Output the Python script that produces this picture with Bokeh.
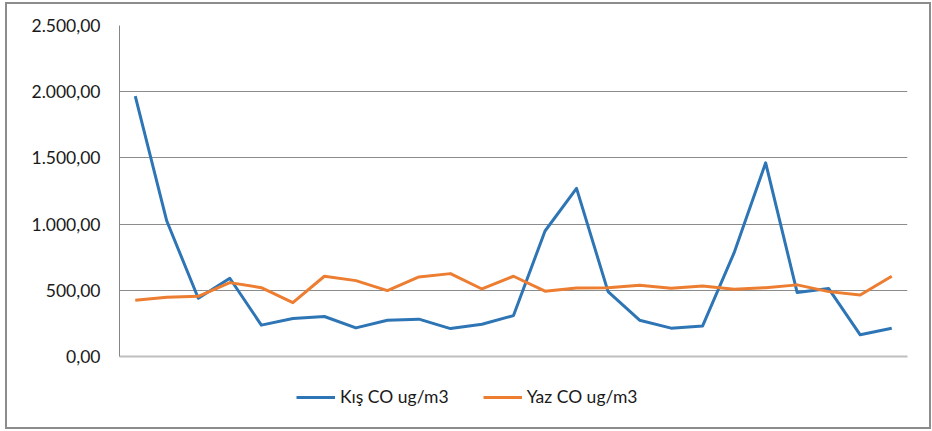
from bokeh.plotting import figure
from bokeh.layouts import column
from bokeh.models import Range1d, FixedTicker, Legend, LegendItem, InlineStyleSheet
from bokeh.embed import file_html
from bokeh.resources import INLINE

# Sample index (25 measurement points) and CO concentrations, ug/m3
samples = list(range(1, 26))
kis_co = [1966, 1023, 440, 591, 237, 287, 302, 216, 274, 282,
          211, 244, 309, 948, 1270, 490, 274, 214, 231, 784,
          1463, 483, 513, 164, 214]
yaz_co = [425, 448, 455, 558, 520, 407, 606, 573, 498, 601,
          626, 510, 606, 493, 518, 520, 538, 516, 533, 508,
          520, 541, 490, 465, 606]

y_ticks = [0, 500, 1000, 1500, 2000, 2500]
y_tick_labels = ["0,00", "500,00", "1.000,00", "1.500,00", "2.000,00", "2.500,00"]
series_names = ["Kış CO ug/m3", "Yaz CO ug/m3"]

FONT = "Lato"
BLUE = "#2E75B6"
ORANGE = "#ED7D31"
TEXT = "#1a1a1a"

# thin grey frame around the whole chart area
frame_css = InlineStyleSheet(css="""
:host { position: relative; }
:host::after {
  content: ""; position: absolute; pointer-events: none;
  left: 5px; top: 2px; right: 1px; bottom: 2px;
  border: 2px solid #8C8C8C;
}
""")

# main plot area
p = figure(width=932, height=376, output_backend="svg", toolbar_location=None,
           x_range=Range1d(0.5, len(samples) + 0.5), y_range=Range1d(0, 2500),
           min_border_left=119, min_border_right=25,
           min_border_top=25, min_border_bottom=20)
p.background_fill_color = "white"
p.border_fill_color = "white"
p.outline_line_color = None

p.line(samples, kis_co, line_color=BLUE, line_width=3, line_join="round")
p.line(samples, yaz_co, line_color=ORANGE, line_width=3, line_join="round")

# y axis: value labels in Turkish number format
p.yaxis.ticker = FixedTicker(ticks=y_ticks)
p.yaxis.major_label_overrides = dict(zip(y_ticks, y_tick_labels))
p.yaxis.major_label_text_font = FONT
p.yaxis.major_label_text_font_size = "17.5px"
p.yaxis.major_label_text_color = TEXT
p.yaxis.major_tick_out = 0
p.yaxis.major_tick_in = 0
p.yaxis.minor_tick_out = 0
p.yaxis.minor_tick_in = 0
p.yaxis.major_label_standoff = 19
p.yaxis.axis_line_color = "#868686"

# x axis: category line only, no labels
p.xaxis.ticker = FixedTicker(ticks=[])
p.xaxis.axis_line_color = "#BFBFBF"
p.xaxis.axis_line_width = 2
p.xaxis.major_tick_out = 0
p.xaxis.minor_tick_out = 0
p.xaxis.major_label_standoff = 0

p.xgrid.grid_line_color = None
p.ygrid.ticker = FixedTicker(ticks=y_ticks)
p.ygrid.grid_line_color = "#8C8C8C"
p.ygrid.grid_line_width = 1

# legend strip below the plot; its key lines reuse the series data, which
# falls outside this strip's ranges so only the legend swatches show
lg = figure(width=932, height=55, output_backend="svg", toolbar_location=None,
            x_axis_type=None, y_axis_type=None,
            x_range=Range1d(-2, -1), y_range=Range1d(-2, -1),
            min_border=0, min_border_left=0, min_border_right=0,
            min_border_top=0, min_border_bottom=0)
lg.outline_line_color = None
lg.grid.visible = False
key_kis = lg.line(samples, kis_co, line_color=BLUE, line_width=3)
key_yaz = lg.line(samples, yaz_co, line_color=ORANGE, line_width=3)
# the strip's frame lines up with the main plot's frame (left edge at 119px)
legend = Legend(items=[LegendItem(label=series_names[0], renderers=[key_kis]),
                       LegendItem(label=series_names[1], renderers=[key_yaz])],
                orientation="horizontal", location=(177, 24),
                glyph_width=39, glyph_height=20, label_standoff=5, spacing=34,
                padding=0, margin=0, border_line_color=None,
                background_fill_alpha=0,
                label_text_font=FONT, label_text_font_size="17.5px",
                label_text_color=TEXT)
lg.add_layout(legend, "center")

layout = column(p, lg, spacing=0, stylesheets=[frame_css])

open("out.html", "w").write(file_html(layout, INLINE))
